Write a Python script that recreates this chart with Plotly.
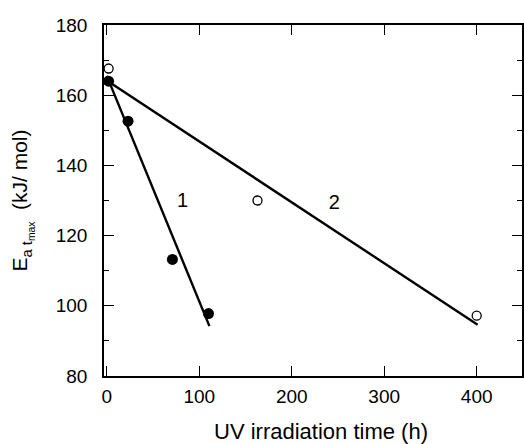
import plotly.graph_objects as go

# Data
filled_x = [2, 23, 71, 110]
filled_y = [164, 152.6, 113.2, 97.8]
open_x = [2, 163, 400]
open_y = [167.6, 130, 97.2]
fit1_x = [0, 111]
fit1_y = [165.5, 94.2]
fit2_x = [0, 401]
fit2_y = [164.2, 94.6]
labels = ["1", "2"]
label_x = [82, 246]
label_y = [129.5, 129]
x_title = "UV irradiation time (h)"
y_title = "E<sub>a t<sub>max</sub></sub>  (kJ/ mol)"

FONT = "Liberation Sans, Arial, Helvetica, sans-serif"

fig = go.Figure()
fig.add_trace(go.Scatter(x=fit1_x, y=fit1_y, mode="lines",
                         line=dict(color="black", width=2.4), showlegend=False))
fig.add_trace(go.Scatter(x=fit2_x, y=fit2_y, mode="lines",
                         line=dict(color="black", width=2.4), showlegend=False))
fig.add_trace(go.Scatter(x=filled_x, y=filled_y, mode="markers",
                         marker=dict(color="black", size=11, line=dict(width=0)),
                         showlegend=False))
fig.add_trace(go.Scatter(x=open_x, y=open_y, mode="markers",
                         marker=dict(color="white", size=9,
                                     line=dict(color="black", width=1.3)),
                         showlegend=False))
fig.add_trace(go.Scatter(x=label_x, y=label_y, mode="text", text=labels,
                         textfont=dict(family=FONT, size=20, color="black"),
                         showlegend=False))

axis_common = dict(
    showline=True, linecolor="black", linewidth=1.5, mirror="allticks",
    ticks="inside", ticklen=10, tickwidth=1.3, tickcolor="black",
    showgrid=False, zeroline=False,
    tickfont=dict(family=FONT, size=19, color="black"),
)

fig.update_xaxes(range=[-3, 449], tickvals=[0, 100, 200, 300, 400],
                 ticklabelstandoff=2, **axis_common)
fig.update_yaxes(range=[80, 180], dtick=20, tick0=80,
                 ticklabelstandoff=11,
                 minor=dict(ticks="inside", ticklen=5, dtick=10, tickwidth=1.3,
                            tickcolor="black", showgrid=False),
                 title=dict(text=y_title, standoff=22,
                            font=dict(family=FONT, size=21, color="black")),
                 **axis_common)

fig.add_annotation(text=x_title, xref="paper", yref="paper",
                   x=0.519, y=-0.157, xanchor="center", yanchor="middle",
                   showarrow=False,
                   font=dict(family=FONT, size=22, color="black"))

fig.update_layout(
    width=524, height=444,
    margin=dict(l=104, r=0, t=25, b=68),
    plot_bgcolor="white", paper_bgcolor="white",
    font=dict(family=FONT, color="black"),
)

fig.write_html("out.html")
